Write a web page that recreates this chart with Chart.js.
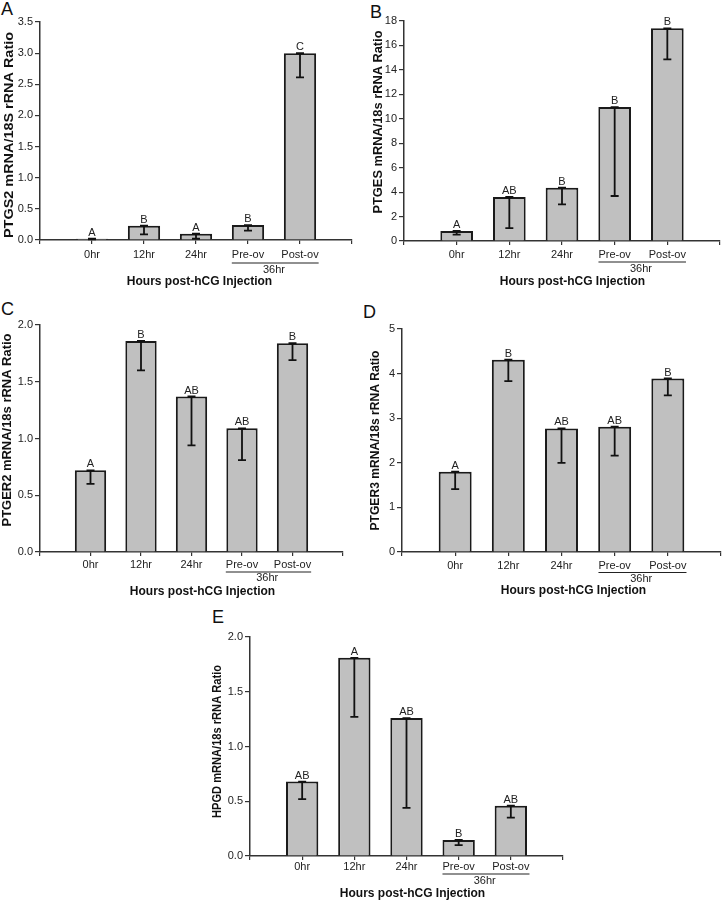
<!DOCTYPE html>
<html><head><meta charset="utf-8">
<script src="https://cdn.jsdelivr.net/npm/chart.js@4.4.1/dist/chart.umd.min.js"></script>
<style>
html,body{margin:0;padding:0;background:#fff;}
body{width:723px;height:902px;position:relative;overflow:hidden;font-family:"Liberation Sans",Arial,sans-serif;}
.plet{position:absolute;font-size:18px;line-height:1;color:#111;}
</style></head><body>
<script>
// ---- data ----
const categories = ['0hr', '12hr', '24hr', 'Pre-ov', 'Post-ov'];
const groupLabel = '36hr';
const xAxisTitle = 'Hours post-hCG Injection';

const ptgs2Mean = [0.02, 0.23, 0.10, 0.24, 3.00];
const ptgs2Sem  = [0.01, 0.14, 0.08, 0.09, 0.39];
const ptgs2Sig  = ['A', 'B', 'A', 'B', 'C'];
const ptgs2Ticks = [0, 0.5, 1.0, 1.5, 2.0, 2.5, 3.0, 3.5];

const ptgesMean = [0.82, 3.60, 4.36, 10.96, 17.40];
const ptgesSem  = [0.30, 2.54, 1.36, 7.28, 2.54];
const ptgesSig  = ['A', 'AB', 'B', 'B', 'B'];
const ptgesTicks = [0, 2, 4, 6, 8, 10, 12, 14, 16, 18];

const ptger2Mean = [0.72, 1.86, 1.37, 1.09, 1.84];
const ptger2Sem  = [0.12, 0.26, 0.43, 0.28, 0.15];
const ptger2Sig  = ['A', 'B', 'AB', 'AB', 'B'];
const ptger2Ticks = [0, 0.5, 1.0, 1.5, 2.0];

const ptger3Mean = [1.80, 4.31, 2.77, 2.81, 3.89];
const ptger3Sem  = [0.39, 0.48, 0.77, 0.65, 0.38];
const ptger3Sig  = ['A', 'B', 'AB', 'AB', 'B'];
const ptger3Ticks = [0, 1, 2, 3, 4, 5];

const hpgdMean = [0.68, 1.81, 1.26, 0.146, 0.46];
const hpgdSem  = [0.16, 0.54, 0.82, 0.046, 0.11];
const hpgdSig  = ['AB', 'A', 'AB', 'B', 'AB'];
const hpgdTicks = [0, 0.5, 1.0, 1.5, 2.0];

// ---- layout ----
const FONT = '"Liberation Sans", Arial, sans-serif';
const panels = [
  {letter:'A', lx:1, ly:0, title:'PTGS2 mRNA/18S rRNA Ratio', mean:ptgs2Mean, sem:ptgs2Sem, sig:ptgs2Sig, ticks:ptgs2Ticks, dec:1,
   ax:40, top:22, bottom:240, right:352, yTitleLen:206, yTitleOff:31, yTitleShift:4, labelOff:15, lineOff:23, grpOff:29.5, xTitleOff:42, xTitleShift:3.5},
  {letter:'B', lx:370, ly:3, title:'PTGES mRNA/18s rRNA Ratio', mean:ptgesMean, sem:ptgesSem, sig:ptgesSig, ticks:ptgesTicks, dec:0,
   ax:404, top:21, bottom:241, right:720, yTitleLen:183, yTitleOff:26, yTitleShift:-9, labelOff:14, lineOff:21, grpOff:27.5, xTitleOff:41, xTitleShift:10.5},
  {letter:'C', lx:1, ly:300, title:'PTGER2 mRNA/18s rRNA Ratio', mean:ptger2Mean, sem:ptger2Sem, sig:ptger2Sig, ticks:ptger2Ticks, dec:1,
   ax:40, top:325, bottom:552, right:343, yTitleLen:193, yTitleOff:32.5, yTitleShift:-8.5, labelOff:13, lineOff:20, grpOff:25.5, xTitleOff:40, xTitleShift:11},
  {letter:'D', lx:363, ly:303, title:'PTGER3 mRNA/18s rRNA Ratio', mean:ptger3Mean, sem:ptger3Sem, sig:ptger3Sig, ticks:ptger3Ticks, dec:0,
   ax:402, top:329, bottom:552, right:721, yTitleLen:180, yTitleOff:27, yTitleShift:0, labelOff:14, lineOff:20.5, grpOff:26.5, xTitleOff:39, xTitleShift:12},
  {letter:'E', lx:212, ly:608, title:'HPGD mRNA/18s rRNA Ratio', mean:hpgdMean, sem:hpgdSem, sig:hpgdSig, ticks:hpgdTicks, dec:1,
   ax:250, top:637, bottom:856, right:563, yTitleLen:153, yTitleOff:33, yTitleShift:-5, labelOff:11, lineOff:18, grpOff:25, xTitleOff:38, xTitleShift:6}
];

const annot = {
  id: 'annot',
  afterDraw(chart, args, o) {
    const p = o.panel;
    const {ctx, chartArea: ca} = chart;
    const ys = chart.scales.y, xs = chart.scales.x;
    const meta = chart.getDatasetMeta(0);
    ctx.save();
    p.mean.forEach((m, i) => {
      const x = meta.data[i + 1].x;
      const yt = ys.getPixelForValue(m);
      const yl = ys.getPixelForValue(m - p.sem[i]);
      ctx.strokeStyle = '#111'; ctx.lineWidth = 1.8;
      ctx.beginPath();
      ctx.moveTo(x, yt); ctx.lineTo(x, yl);
      ctx.moveTo(x - 4, yl); ctx.lineTo(x + 4, yl);
      ctx.moveTo(x - 4, yt); ctx.lineTo(x + 4, yt);
      ctx.stroke();
      ctx.fillStyle = '#222';
      ctx.font = '11px ' + FONT;
      ctx.textAlign = 'center'; ctx.textBaseline = 'alphabetic';
      ctx.fillText(p.sig[i], x, yt - 3);
    });
    // 36hr group bracket
    ctx.font = '11px ' + FONT;
    const xa = xs.getPixelForValue(4), xb = xs.getPixelForValue(5);
    const wa = ctx.measureText(categories[3]).width, wb = ctx.measureText(categories[4]).width;
    const ly = ca.bottom + p.lineOff;
    ctx.strokeStyle = '#222'; ctx.lineWidth = 1.2;
    ctx.beginPath(); ctx.moveTo(xa - wa / 2, ly); ctx.lineTo(xb + wb / 2, ly); ctx.stroke();
    ctx.fillStyle = '#222'; ctx.textAlign = 'center'; ctx.textBaseline = 'middle';
    ctx.fillText(groupLabel, (xa + xb) / 2, ca.bottom + p.grpOff);
    // x title
    ctx.fillStyle = '#111';
    ctx.font = 'bold 12px ' + FONT;
    ctx.fillText(xAxisTitle, (ca.left + ca.right) / 2 + p.xTitleShift, ca.bottom + p.xTitleOff);
    // y title
    ctx.font = 'bold 13px ' + FONT;
    const nat = ctx.measureText(p.title).width;
    ctx.translate(ca.left - p.yTitleOff, (ca.top + ca.bottom) / 2 + p.yTitleShift);
    ctx.rotate(-Math.PI / 2);
    ctx.scale(p.yTitleLen / nat, 1);
    ctx.fillText(p.title, 0, 0);
    ctx.restore();
  }
};

const YW = 50, PT = 16, PR = 6, XH = 52;
panels.forEach(p => {
  const d = document.createElement('div');
  d.className = 'plet'; d.textContent = p.letter;
  d.style.left = p.lx + 'px'; d.style.top = p.ly + 'px';
  document.body.appendChild(d);

  const c = document.createElement('canvas');
  const w = YW + (p.right - p.ax) + PR;
  const h = PT + (p.bottom - p.top) + XH;
  c.width = w; c.height = h;
  c.style.cssText = `position:absolute;left:${p.ax - YW}px;top:${p.top - PT}px;width:${w}px;height:${h}px;`;
  document.body.appendChild(c);

  new Chart(c, {
    type: 'bar',
    data: {
      labels: ['', ...categories, ''],
      datasets: [{
        data: [null, ...p.mean, null],
        backgroundColor: '#c0c0c0',
        borderColor: '#1a1a1a',
        borderWidth: 2,
        barPercentage: 0.62,
        categoryPercentage: 1
      }]
    },
    options: {
      responsive: false, animation: false, devicePixelRatio: 1,
      layout: {padding: {top: PT, right: PR, left: 0, bottom: 0}},
      plugins: {legend: {display: false}, tooltip: {enabled: false}, annot: {panel: p}},
      scales: {
        x: {
          type: 'category', offset: false,
          grid: {offset: false, drawOnChartArea: false, drawTicks: true, tickLength: 4, color: '#333', lineWidth: 1.2},
          border: {display: true, color: '#333', width: 1.5},
          ticks: {autoSkip: false, maxRotation: 0, minRotation: 0, padding: Math.max(0, p.labelOff - 11), font: {family: FONT, size: 11}, color: '#222'},
          afterFit: s => { s.height = XH; }
        },
        y: {
          min: 0, max: p.ticks[p.ticks.length - 1],
          afterBuildTicks: s => { s.ticks = p.ticks.map(v => ({value: v})); },
          grid: {drawOnChartArea: false, drawTicks: true, tickLength: 5, color: '#333', lineWidth: 1.2},
          border: {display: true, color: '#333', width: 1.5},
          ticks: {padding: 2, font: {family: FONT, size: 11}, color: '#222', callback: v => Number(v).toFixed(p.dec)},
          afterFit: s => { s.width = YW; }
        }
      }
    },
    plugins: [annot]
  });
});
</script>
</body></html>
